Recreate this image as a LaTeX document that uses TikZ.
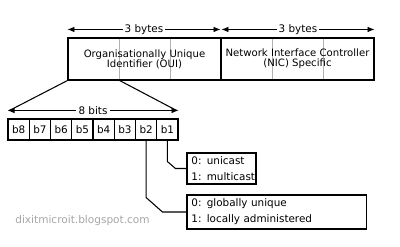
\documentclass[tikz,border=0pt]{standalone}
\usepackage{fontspec}
\setmainfont{DejaVu Sans}
\usetikzlibrary{arrows.meta,positioning,shapes}

\tikzset{
    dimarrow/.style={{Latex[length=5pt,width=4pt]}-{Latex[length=5pt,width=4pt]}, line width=0.6pt},
    dimlabel/.style={fill=white, inner sep=1.5pt, font=\fontsize{7.4}{7.4}\selectfont},
    bytecell/.style={draw=black!30, line width=0.5pt, minimum width=1.275cm, minimum height=1.05cm, inner sep=0pt},
    fieldbox/.style={draw, line width=0.75pt, minimum width=3.825cm, minimum height=1.05cm, inner sep=0pt, align=center, font=\fontsize{7.2}{7.3}\selectfont},
    bitcell/.style={draw, line width=0.75pt, minimum width=0.53125cm, minimum height=0.525cm, inner sep=0pt, font=\fontsize{7.4}{7.4}\selectfont},
    flagbox/.style={draw, line width=0.75pt, inner sep=0pt, align=left, font=\fontsize{7.4}{11.4}\selectfont},
    link/.style={line width=0.75pt},
}

\begin{document}
\begin{tikzpicture}[x=0.025cm, y=-0.025cm]
    \useasboundingbox (0,0) rectangle (400,247);

    % MAC address: six byte cells
    \foreach \i in {1,...,6}
        \node[bytecell] (y\i) at ({68+51*(\i-1)+25.5}, 59) {};
    \node[fieldbox] (oui) at (144.5, 59) {Organisationally Unique\\Identifier (OUI)};
    \node[fieldbox] (nic) at (297.5, 59) {Network Interface Controller\\(NIC) Specific};

    % byte widths
    \draw[dimarrow] ([shift={(0,-8)}]oui.north west) -- ([shift={(-1,-8)}]oui.north east)
        node[midway, dimlabel] {3 bytes};
    \draw[dimarrow] ([shift={(1,-8)}]nic.north west) -- ([shift={(0,-8)}]nic.north east)
        node[midway, dimlabel] {3 bytes};

    % first byte, bit by bit
    \foreach \i in {1,...,8}
        \node[bitcell] (b\i) at ({8+21.25*(8-\i)+10.625}, 129.5) {b\i};
    \coordinate (bitl) at ([shift={(0,-8)}]b8.north west);
    \coordinate (bitr) at ([shift={(0,-8)}]b1.north east);
    \draw[dimarrow] (bitl) -- (bitr) node[midway, dimlabel] {8 bits};
    \draw[link] (oui.south west) -- ([shift={(2,0)}]bitl);
    \draw[link] (y1.south east) -- ([shift={(-2,0)}]bitr);

    % flag meanings
    \node[flagbox, minimum width=1.725cm, minimum height=0.775cm, text width=1.5cm] (cast) at (221.5, 168.5) {\mbox{0: unicast}\\\mbox{1: multicast}};
    \node[flagbox, minimum width=4.475cm, minimum height=0.85cm, text width=4.25cm] (admin) at (276.5, 212) {0: globally unique\\1: locally administered};
    \draw[link] (b1.south) -- ++(0,21) -- ([shift={(-11,0)}]cast.west) -- (cast.west);
    \draw[link] (b2.south) -- ++(0,57) -- ([shift={(-24,0)}]admin.west) -- (admin.west);

    % watermark
    \node[text=black!35, font=\fontsize{7.5}{7.5}\selectfont] (mark) at (82.5, 221) {dixitmicroit.blogspot.com};
\end{tikzpicture}
\end{document}
